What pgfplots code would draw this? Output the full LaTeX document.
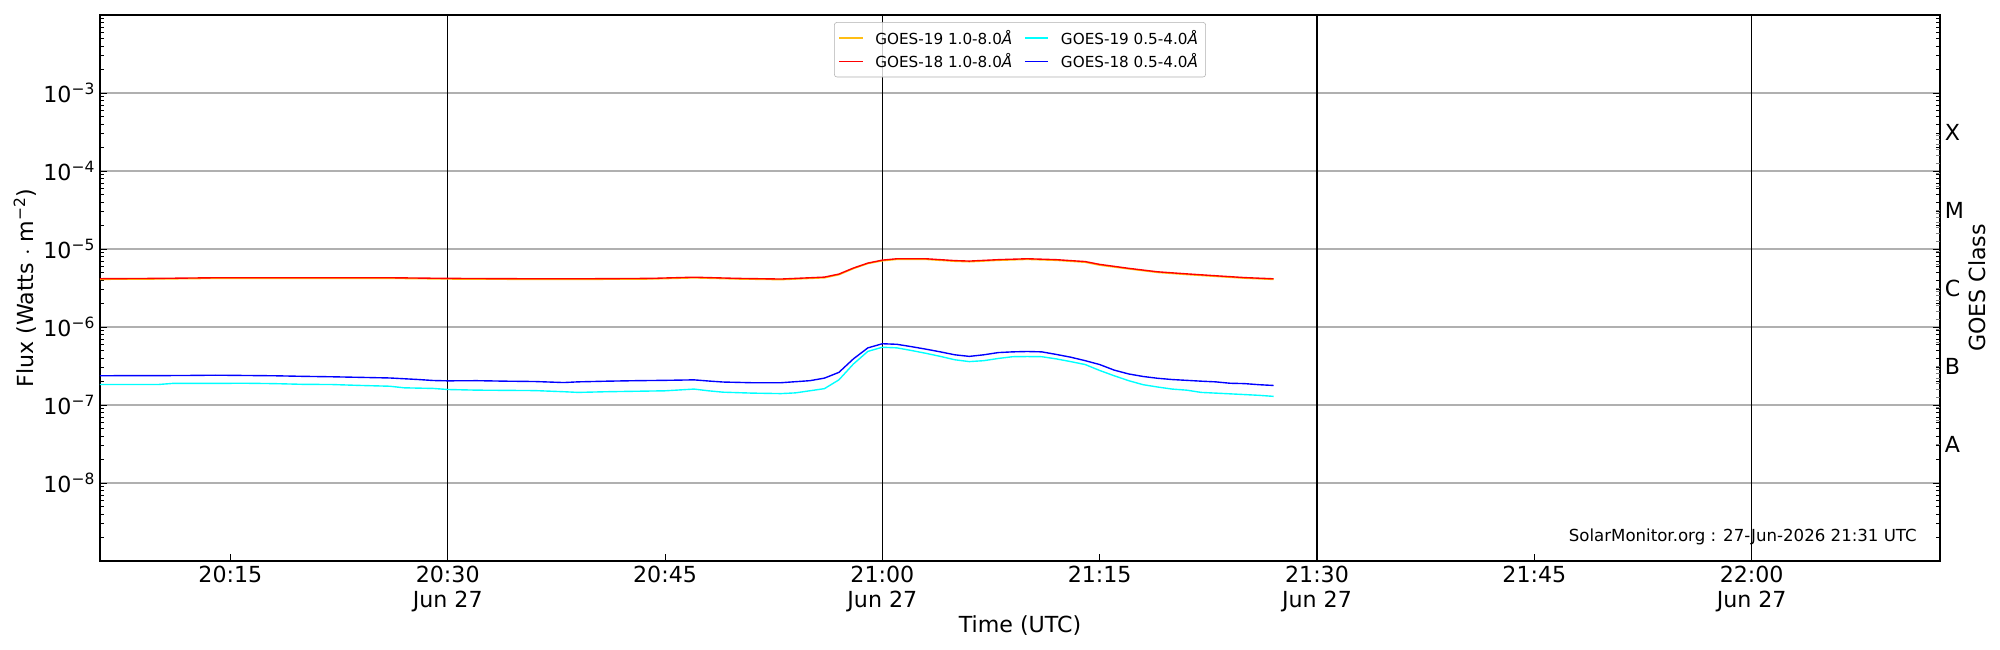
\documentclass[border=0pt]{standalone}
\usepackage{pgfplots}
\pgfplotsset{compat=1.18}
\usepackage{fontspec}
\setmainfont{DejaVu Sans}
\definecolor{gold}{RGB}{255,190,20}
\definecolor{cyanx}{RGB}{0,255,255}
\definecolor{gridgray}{RGB}{176,176,176}
\begin{document}
\begin{tikzpicture}
\path[use as bounding box] (-72bp,-64.1bp) rectangle (1368bp,403.9bp);
\begin{axis}[
  at={(0,0)}, anchor=south west,
  scale only axis, width=1324.8bp, height=393.1bp,
  ymode=log, log basis y=10,
  xmin=6, xmax=133, ymin=1e-9, ymax=1e-2,
  xtick={15,30,45,60,75,90,105,120},
  xticklabels={20:15,{20:30\\Jun 27},20:45,{21:00\\Jun 27},21:15,{21:30\\Jun 27},21:45,{22:00\\Jun 27}},
  xticklabel style={align=center, font=\fontsize{16}{18}\selectfont},
  ytick={1e-8,1e-7,1e-6,1e-5,1e-4,1e-3},
  yticklabels={10\textsuperscript{−8},10\textsuperscript{−7},10\textsuperscript{−6},10\textsuperscript{−5},10\textsuperscript{−4},10\textsuperscript{−3}},
  yticklabel style={font=\fontsize{16}{18}\selectfont},
  minor ytick={2e-9,3e-9,4e-9,5e-9,6e-9,7e-9,8e-9,9e-9,
    2e-8,3e-8,4e-8,5e-8,6e-8,7e-8,8e-8,9e-8,
    2e-7,3e-7,4e-7,5e-7,6e-7,7e-7,8e-7,9e-7,
    2e-6,3e-6,4e-6,5e-6,6e-6,7e-6,8e-6,9e-6,
    2e-5,3e-5,4e-5,5e-5,6e-5,7e-5,8e-5,9e-5,
    2e-4,3e-4,4e-4,5e-4,6e-4,7e-4,8e-4,9e-4,
    2e-3,3e-3,4e-3,5e-3,6e-3,7e-3,8e-3,9e-3},
  ytick pos=both, xtick pos=bottom,
  tick align=inside,
  major tick length=5bp, minor tick length=3bp,
  tick style={black, line width=0.7bp},
  ymajorgrids, major grid style={gridgray, line width=0.9bp},
  extra x ticks={30,60,90,120},
  extra x tick labels={},
  extra x tick style={grid=major, major grid style={black, line width=0.9bp}},
  axis line style={line width=1bp},
  xlabel={Time (UTC)},
  ylabel={Flux (Watts $\cdot$ m\textsuperscript{−2})},
  label style={font=\fontsize{16}{18}\selectfont},
  xlabel style={yshift=4bp},
  ylabel style={yshift=-2bp},
  legend columns=2,
  legend style={at={(0.5,0.987)}, anchor=north, font=\fontsize{11}{13}\selectfont,
    draw=gridgray, rounded corners=2bp, fill=white, fill opacity=0.8, text opacity=1,
    column sep=6bp, row sep=0bp, inner sep=3bp,
    nodes={inner sep=2.5bp}},
  legend cell align=left,
  every axis plot/.append style={line width=1bp},
]
\addplot[gold] coordinates {
(6,4.08e-6)(10,4.12e-6)(14,4.2e-6)(20,4.2e-6)(26,4.2e-6)(30,4.12e-6)(35,4.08e-6)(40,4.08e-6)(44,4.12e-6)(47,4.26e-6)(50,4.12e-6)(53,4.04e-6)(56,4.27e-6)(57,4.67e-6)(58,5.6e-6)(59,6.5e-6)(60,7.05e-6)(61,7.35e-6)(63,7.35e-6)(65,6.95e-6)(66,6.85e-6)(68,7.15e-6)(70,7.35e-6)(71,7.25e-6)(72,7.15e-6)(74,6.75e-6)(75,6.2e-6)(77,5.55e-6)(79,5.0e-6)(81,4.7e-6)(83,4.45e-6)(85,4.22e-6)(87,4.07e-6)};
\addlegendentry{GOES-19 1.0-8.0\textit{Å}}
\addplot[cyanx] coordinates {
(6,1.83e-7)(8,1.83e-7)(10,1.83e-7)(11,1.89e-7)(13,1.89e-7)(16,1.90e-7)(18,1.88e-7)(20,1.84e-7)(22,1.83e-7)(24,1.78e-7)(26,1.74e-7)(27,1.66e-7)(29,1.63e-7)(30,1.58e-7)(32,1.55e-7)(34,1.54e-7)(36,1.53e-7)(38,1.48e-7)(39,1.45e-7)(41,1.48e-7)(43,1.50e-7)(45,1.52e-7)(47,1.60e-7)(48,1.52e-7)(49,1.46e-7)(51,1.42e-7)(53,1.40e-7)(54,1.43e-7)(56,1.62e-7)(57,2.1e-7)(58,3.35e-7)(59,4.87e-7)(60,5.5e-7)(61,5.4e-7)(62,5.0e-7)(63,4.6e-7)(64,4.2e-7)(65,3.8e-7)(66,3.6e-7)(67,3.7e-7)(68,3.95e-7)(69,4.16e-7)(70,4.18e-7)(71,4.16e-7)(72,3.9e-7)(73,3.6e-7)(74,3.3e-7)(75,2.77e-7)(76,2.37e-7)(77,2.05e-7)(78,1.82e-7)(79,1.7e-7)(80,1.6e-7)(81,1.55e-7)(82,1.45e-7)(83,1.42e-7)(84,1.39e-7)(85,1.36e-7)(86,1.33e-7)(87,1.29e-7)};
\addlegendentry{GOES-19 0.5-4.0\textit{Å}}
\addplot[red] coordinates {
(6,4.16e-6)(10,4.2e-6)(14,4.28e-6)(20,4.28e-6)(26,4.28e-6)(30,4.2e-6)(35,4.16e-6)(40,4.16e-6)(44,4.2e-6)(47,4.35e-6)(50,4.2e-6)(53,4.12e-6)(56,4.36e-6)(57,4.77e-6)(58,5.7e-6)(59,6.6e-6)(60,7.2e-6)(61,7.5e-6)(63,7.5e-6)(65,7.1e-6)(66,7.0e-6)(68,7.3e-6)(70,7.5e-6)(71,7.4e-6)(72,7.3e-6)(74,6.9e-6)(75,6.35e-6)(77,5.65e-6)(79,5.1e-6)(81,4.8e-6)(83,4.54e-6)(85,4.3e-6)(87,4.15e-6)};
\addlegendentry{GOES-18 1.0-8.0\textit{Å}}
\addplot[blue] coordinates {
(6,2.37e-7)(8,2.38e-7)(10,2.38e-7)(12,2.39e-7)(14,2.41e-7)(16,2.39e-7)(18,2.37e-7)(20,2.33e-7)(22,2.30e-7)(24,2.26e-7)(26,2.22e-7)(28,2.12e-7)(29,2.06e-7)(30,2.04e-7)(32,2.05e-7)(34,2.02e-7)(36,2.00e-7)(38,1.94e-7)(39,1.98e-7)(41,2.02e-7)(43,2.05e-7)(45,2.07e-7)(47,2.10e-7)(48,2.03e-7)(49,1.97e-7)(51,1.93e-7)(53,1.93e-7)(55,2.05e-7)(56,2.21e-7)(57,2.62e-7)(58,3.9e-7)(59,5.4e-7)(60,6.1e-7)(61,6.0e-7)(62,5.6e-7)(63,5.2e-7)(64,4.8e-7)(65,4.4e-7)(66,4.2e-7)(67,4.4e-7)(68,4.7e-7)(69,4.8e-7)(70,4.85e-7)(71,4.8e-7)(72,4.45e-7)(73,4.1e-7)(74,3.7e-7)(75,3.3e-7)(76,2.8e-7)(77,2.5e-7)(78,2.32e-7)(79,2.2e-7)(80,2.12e-7)(81,2.07e-7)(82,2.02e-7)(83,1.98e-7)(84,1.9e-7)(85,1.88e-7)(86,1.82e-7)(87,1.78e-7)};
\addlegendentry{GOES-18 0.5-4.0\textit{Å}}
\node[anchor=south east, font=\fontsize{12}{14}\selectfont, inner sep=0pt] at (rel axis cs:0.9875,0.028) {SolarMonitor.org : 27-Jun-2026 21:31 UTC};
\end{axis}
\begin{axis}[
  at={(0,0)}, anchor=south west,
  scale only axis, width=1324.8bp, height=393.1bp,
  ymode=log, xmin=6, xmax=133, ymin=1e-9, ymax=1e-2,
  axis x line=none,
  axis y line*=right,
  y axis line style={draw=none},
  ytick={3.1623e-8,3.1623e-7,3.1623e-6,3.1623e-5,3.1623e-4},
  yticklabels={A,B,C,M,X},
  major tick length=0pt, minor ytick={},
  yticklabel style={font=\fontsize{16}{18}\selectfont, xshift=0bp},
  ylabel={GOES Class},
  label style={font=\fontsize{16}{18}\selectfont},
  ylabel style={yshift=3.5bp},
]
\addplot[draw=none] coordinates {(6,1e-8)(133,1e-3)};
\end{axis}
\end{tikzpicture}
\end{document}
